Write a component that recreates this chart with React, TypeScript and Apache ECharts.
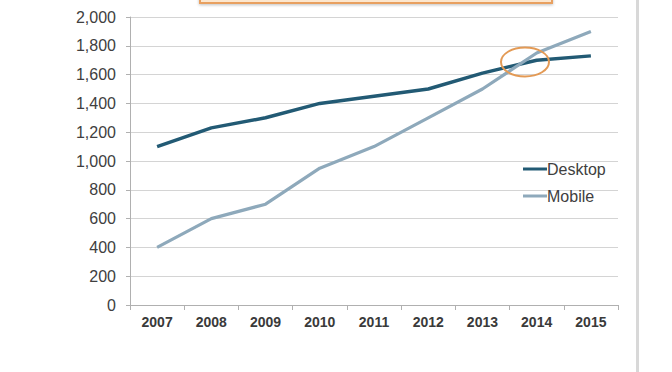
import React, { useEffect, useRef } from "react";
import * as echarts from "echarts";

const years = ["2007", "2008", "2009", "2010", "2011", "2012", "2013", "2014", "2015"];
const desktop = [1100, 1230, 1300, 1400, 1450, 1500, 1610, 1700, 1730];
const mobile = [400, 600, 700, 950, 1100, 1300, 1500, 1750, 1900];
const yTicks = { min: 0, max: 2000, interval: 200 };

export default function App() {
  const ref = useRef<HTMLDivElement>(null);
  useEffect(() => {
    const chart = echarts.init(ref.current!, null, { renderer: "svg" });
    chart.setOption({
      animation: false,
      backgroundColor: "#ffffff",
      grid: { left: 130, right: 54, top: 17, bottom: 67 },
      legend: {
        orient: "vertical",
        left: 518,
        top: 155,
        itemWidth: 24,
        itemHeight: 3,
        itemGap: 9,
        icon: "rect",
        textStyle: { fontFamily: "Liberation Sans, Arial", fontSize: 16, color: "#404040", padding: [0, 0, 0, -5], lineHeight: 18 },
        data: ["Desktop", "Mobile"],
      },
      xAxis: {
        type: "category",
        data: years,
        boundaryGap: true,
        axisLine: { lineStyle: { color: "#b0b0b0", width: 1 } },
        axisTick: { show: true, length: 5, lineStyle: { color: "#b0b0b0" } },
        axisLabel: { fontFamily: "Liberation Sans, Arial", fontSize: 14, fontWeight: "bold", color: "#3a3a3a", margin: 10 },
      },
      yAxis: {
        type: "value",
        min: yTicks.min,
        max: yTicks.max,
        interval: yTicks.interval,
        axisLine: { show: true, lineStyle: { color: "#b0b0b0", width: 1 } },
        axisTick: { show: true, length: 4, lineStyle: { color: "#b0b0b0" } },
        axisLabel: {
          fontFamily: "Liberation Sans, Arial",
          fontSize: 16,
          color: "#404040",
          margin: 14,
          formatter: (v: number) => v.toLocaleString("en-US"),
        },
        splitLine: { show: true, lineStyle: { color: "#d4d4d4", width: 1 } },
      },
      series: [
        {
          name: "Desktop",
          type: "line",
          data: desktop,
          symbol: "none",
          color: "#225a74",
          lineStyle: { width: 3.5, color: "#225a74" },
        },
        {
          name: "Mobile",
          type: "line",
          data: mobile,
          symbol: "none",
          color: "#8ea9bb",
          lineStyle: { width: 3.2, color: "#8ea9bb" },
        },
      ],
      graphic: [
        {
          type: "rect",
          shape: { x: 200, y: -6, width: 352, height: 9 },
          style: { fill: "#fce7cf", stroke: "#e8a060", lineWidth: 2, shadowBlur: 3, shadowColor: "rgba(0,0,0,0.25)", shadowOffsetY: 1 },
          z: 100,
        },
        {
          type: "ellipse",
          shape: { cx: 525, cy: 62, rx: 24, ry: 14.5 },
          style: { fill: "none", stroke: "#e39a55", lineWidth: 2 },
          z: 100,
        },
        {
          type: "rect",
          shape: { x: 636, y: 0, width: 3, height: 372 },
          style: { fill: "#d8d8d8" },
          z: 100,
        },
      ],
    });
    return () => chart.dispose();
  }, []);
  return <div ref={ref} style={{ width: 672, height: 372, position: "absolute", left: 0, top: 0 }} />;
}
